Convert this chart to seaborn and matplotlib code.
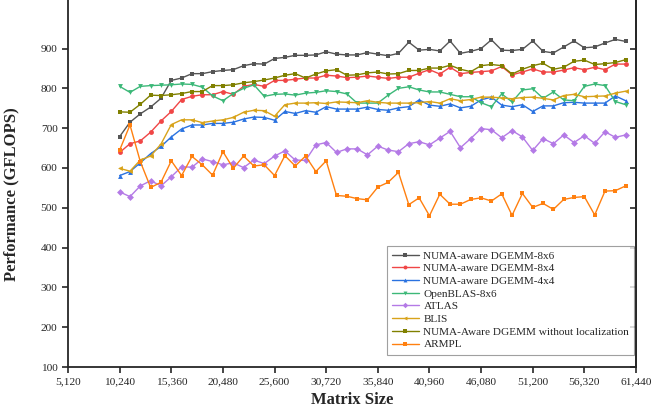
import numpy as np
import pandas as pd
import seaborn as sns
import matplotlib.pyplot as plt
from matplotlib.ticker import FuncFormatter

# matrix sizes: 10240 .. 60416, step 1024
sizes = list(range(10240, 60417, 1024))

numa_8x6 = [679, 715, 736, 753, 775, 820, 826, 837, 837, 842, 845, 847, 857,
            862, 861, 875, 878, 883, 883, 884, 892, 886, 884, 884, 890, 886,
            882, 888, 916, 896, 898, 894, 919, 888, 893, 900, 922, 896,
            895, 898, 919, 893, 889, 904, 919, 902, 904, 914, 923, 918]
numa_8x4 = [639, 661, 668, 690, 718, 742, 772, 780, 784, 784, 792, 785, 805,
            810, 805, 820, 820, 823, 826, 826, 833, 831, 827, 828, 831, 828,
            825, 828, 828, 838, 847, 836, 853, 837, 840, 842, 844, 855,
            834, 841, 849, 841, 841, 846, 852, 847, 853, 847, 861, 861]
numa_4x4 = [581, 591, 613, 636, 654, 678, 698, 708, 708, 712, 712, 715, 723,
            728, 727, 720, 742, 737, 744, 740, 754, 748, 748, 748, 753, 747,
            745, 751, 754, 771, 758, 755, 761, 751, 755, 771, 778, 758,
            754, 759, 742, 756, 756, 764, 765, 763, 763, 763, 781, 769]
openblas = [805, 790, 805, 807, 808, 809, 811, 810, 803, 781, 769, 787, 800,
            809, 780, 785, 786, 783, 788, 790, 794, 792, 786, 763, 763, 763,
            783, 800, 804, 796, 791, 791, 785, 779, 779, 764, 754, 786,
            766, 796, 799, 775, 791, 771, 769, 805, 811, 807, 767, 759]
atlas = [540, 528, 555, 568, 555, 578, 603, 602, 623, 616, 608, 613, 601,
         620, 611, 630, 643, 620, 619, 658, 664, 639, 648, 648, 633, 655,
         645, 641, 661, 666, 658, 675, 692, 651, 674, 699, 696, 676,
         694, 678, 644, 674, 661, 683, 664, 681, 662, 691, 677, 683]
blis = [599, 592, 620, 630, 660, 709, 721, 721, 714, 718, 721, 727, 740,
        745, 744, 730, 759, 763, 763, 764, 762, 766, 765, 764, 769, 765,
        763, 763, 763, 764, 767, 763, 774, 769, 772, 778, 778, 776,
        774, 777, 778, 775, 771, 782, 785, 779, 780, 781, 788, 793]
numa_noloc = [741, 740, 760, 783, 782, 784, 787, 792, 792, 807, 807, 809, 814,
              817, 821, 826, 833, 837, 826, 836, 844, 847, 833, 834, 839, 841,
              836, 837, 845, 845, 851, 851, 858, 848, 842, 857, 860, 857,
              836, 848, 857, 863, 848, 853, 868, 871, 860, 862, 865, 872]
armpl = [645, 708, 616, 551, 564, 618, 581, 629, 608, 582, 641, 599, 630,
         605, 608, 581, 631, 605, 630, 591, 618, 531, 529, 523, 520, 552,
         564, 589, 508, 525, 480, 534, 509, 509, 521, 525, 517, 535,
         481, 536, 501, 511, 496, 521, 526, 528, 482, 542, 543, 555]

names = ["NUMA-aware DGEMM-8x6", "NUMA-aware DGEMM-8x4", "NUMA-aware DGEMM-4x4",
         "OpenBLAS-8x6", "ATLAS", "BLIS",
         "NUMA-Aware DGEMM without localization", "ARMPL"]
series = [numa_8x6, numa_8x4, numa_4x4, openblas, atlas, blis, numa_noloc, armpl]
colors = ["#555555", "#f04646", "#2a72e0", "#3cb878", "#b47ae6", "#d8a31a",
          "#808000", "#ff8010"]
marks = ["s", "o", "^", "v", "D", "<", "s", "s"]

df = pd.concat([pd.DataFrame({"size": sizes, "gflops": v, "lib": n})
                for n, v in zip(names, series)], ignore_index=True)

sns.set_style("ticks")
plt.rcParams["font.family"] = ["Liberation Serif", "DejaVu Serif"]

fig = plt.figure(figsize=(6.56, 4.11), dpi=100)
ax = fig.add_axes([0.1037, 0.107, 0.8658, 0.893])

sns.lineplot(data=df, x="size", y="gflops", hue="lib", style="lib",
             hue_order=names, style_order=names,
             palette=dict(zip(names, colors)), markers=dict(zip(names, marks)),
             dashes=False, linewidth=1, markersize=3.5, markeredgewidth=0,
             ax=ax)

ax.set_xlim(5120, 61440)
ax.set_ylim(100, 1022)
ax.set_xticks(range(5120, 61441, 5120))
ax.set_yticks(range(100, 901, 100))
ax.xaxis.set_major_formatter(FuncFormatter(lambda v, p: f"{int(v):,}"))
ax.tick_params(axis="both", labelsize=8.2, direction="out", length=4, width=1.2)
ax.spines["top"].set_visible(False)
for s in ["left", "right", "bottom"]:
    ax.spines[s].set_linewidth(1.3)

# right axis: inward ticks, no labels
sec = ax.secondary_yaxis("right")
sec.set_yticks(range(100, 901, 100))
sec.tick_params(direction="in", length=4.5, width=1.2, labelright=False)
sec.spines["right"].set_linewidth(1.3)

ax.set_xlabel("Matrix Size", fontsize=12, fontweight="bold")
ax.set_ylabel("Performance (GFLOPS)", fontsize=12, fontweight="bold")
ax.yaxis.set_label_coords(-0.085, 0.47)

h, l = ax.get_legend_handles_labels()
leg = ax.legend(h, l, loc="lower right", bbox_to_anchor=(0.997, 0.034),
                fontsize=8.1, frameon=True, fancybox=False, edgecolor="#888888",
                handlelength=2.4, labelspacing=0.25, borderaxespad=0,
                borderpad=0.45, handletextpad=0.4, markerscale=0.8)
leg.get_frame().set_linewidth(0.8)

plt.savefig("out.png", dpi=100)
